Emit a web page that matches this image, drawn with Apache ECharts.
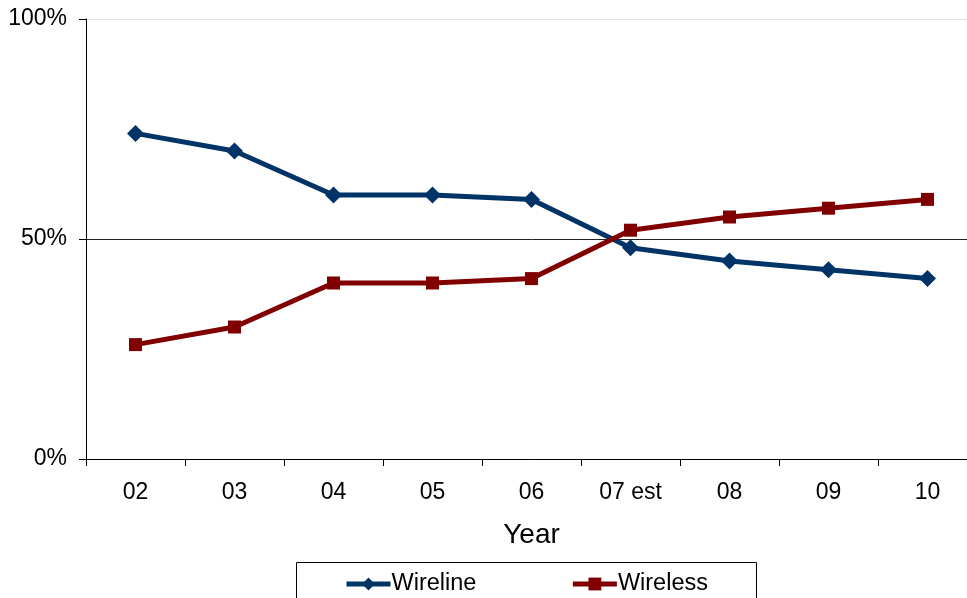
<!DOCTYPE html>
<html>
<head>
<meta charset="utf-8">
<script src="https://cdn.jsdelivr.net/npm/echarts@6/dist/echarts.min.js"></script>
<style>
  html, body { margin: 0; padding: 0; background: #fff; overflow: hidden; }
  #chart { width: 980px; height: 598px; }
</style>
</head>
<body>
<div id="chart"></div>
<script>
// Share of lines, wireline vs wireless, by year
const years = ['02', '03', '04', '05', '06', '07 est', '08', '09', '10'];
const wireline = [74, 70, 60, 60, 59, 48, 45, 43, 41];
const wireless = [26, 30, 40, 40, 41, 52, 55, 57, 59];
const yTicks = [0, 50, 100];

const FONT = 'Liberation Sans, Arial, sans-serif';
const chart = echarts.init(document.getElementById('chart'), null, { renderer: 'canvas' });

chart.setOption({
  animation: false,
  backgroundColor: '#fff',
  textStyle: { fontFamily: FONT },
  grid: { left: 86, top: 19, width: 891, height: 440, containLabel: false },
  graphic: [{
    type: 'rect',
    shape: { x: 296.5, y: 562.5, width: 460, height: 60 },
    style: { fill: '#fff', stroke: '#000', lineWidth: 1 },
    z: 0
  }],
  legend: {
    left: 344,
    top: 572,
    padding: 0,
    itemWidth: 44,
    itemHeight: 16,
    itemGap: 94,
    lineStyle: { width: 5 },
    textStyle: { fontFamily: FONT, fontSize: 23.5, color: '#000', padding: [0, 0, 0, -4] },
    data: ['Wireline', 'Wireless'],
    z: 5
  },
  xAxis: {
    type: 'category',
    data: years,
    boundaryGap: true,
    name: 'Year',
    nameLocation: 'middle',
    nameGap: 62,
    nameTextStyle: { fontFamily: FONT, fontSize: 28, color: '#000' },
    axisLine: { lineStyle: { color: '#000', width: 1 } },
    axisTick: { show: true, interval: 0, length: 7, lineStyle: { color: '#000' } },
    axisLabel: { fontFamily: FONT, fontSize: 23, color: '#000', margin: 22, interval: 0 },
    splitLine: { show: false }
  },
  yAxis: {
    type: 'value',
    min: yTicks[0],
    max: yTicks[yTicks.length - 1],
    interval: 50,
    axisLine: { show: true, lineStyle: { color: '#000', width: 1 } },
    axisTick: { show: true, length: 7, lineStyle: { color: '#000' } },
    axisLabel: { fontFamily: FONT, fontSize: 23, color: '#000', margin: 19, formatter: '{value}%' },
    splitLine: { show: true, lineStyle: { color: ['#000', '#222', '#e4e4e4'], width: 1 } }
  },
  series: [
    {
      name: 'Wireline',
      type: 'line',
      data: wireline,
      symbol: 'diamond',
      symbolSize: 17,
      itemStyle: { color: '#003366' },
      lineStyle: { color: '#003366', width: 5 },
      z: 3
    },
    {
      name: 'Wireless',
      type: 'line',
      data: wireless,
      symbol: 'rect',
      symbolSize: 13,
      itemStyle: { color: '#800000' },
      lineStyle: { color: '#800000', width: 5 },
      z: 4
    }
  ]
});
</script>
</body>
</html>
